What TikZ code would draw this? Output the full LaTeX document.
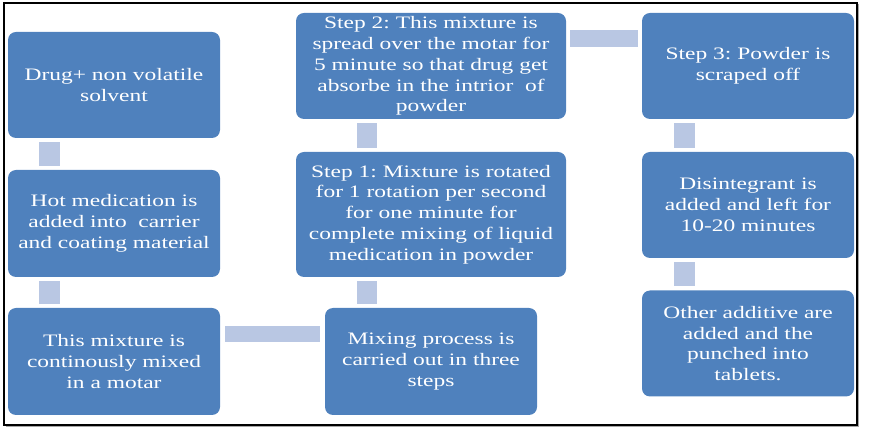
\documentclass[tikz,border=0pt]{standalone}
\usepackage{fontspec}
\setmainfont{Liberation Serif}[FakeStretch=1.34]
\frenchspacing

\definecolor{modra}{HTML}{4F81BD}
\definecolor{svetla}{HTML}{B9C7E3}

\tikzset{
  korak/.style={fill=modra, rounded corners=8pt, text=white, align=center,
    inner sep=0pt, font=\fontsize{17.5}{20.8}\selectfont},
  vez/.style={draw=svetla, line cap=butt}
}

\begin{document}
\begin{tikzpicture}[x=1pt,y=1pt]
\useasboundingbox (0,0) rectangle (870,436);

%okvir
\draw [gray!70, line width=1pt](5.5,9.5)--(858.5,9.5)--(858.5,431.5);
\draw [black, line width=1.1pt](4,11) rectangle (857,433);

%levi stolpec
\node[korak, minimum width=212pt, minimum height=106pt] (drug) at (114,351) {Drug+ non volatile\\solvent};
\node[korak, minimum width=212pt, minimum height=107pt] (hot) at (114,212.5) {Hot medication is\\added into~ carrier\\and coating material};
\node[korak, minimum width=212pt, minimum height=107pt] (mix) at (114,74.5) {This mixture is\\continously mixed\\in a motar};

%srednji stolpec
\node[korak, minimum width=212pt, minimum height=107pt] (proc) at (431,74.5) {Mixing process is\\carried out in three\\steps};
\node[korak, minimum width=270pt, minimum height=125pt] (stepone) at (431,221.5) {Step 1: Mixture is rotated\\for 1 rotation per second\\for one minute for\\complete mixing of liquid\\medication in powder};
\node[korak, minimum width=270pt, minimum height=106pt] (steptwo) at (431,370) {Step 2: This mixture is\\spread over the motar for\\5 minute so that drug get\\absorbe in the intrior~ of\\powder};

%desni stolpec
\node[korak, minimum width=212pt, minimum height=106pt] (stepthree) at (748,370) {Step 3: Powder is\\scraped off};
\node[korak, minimum width=212pt, minimum height=106pt] (disint) at (748,231) {Disintegrant is\\added and left for\\10-20 minutes};
\node[korak, minimum width=212pt, minimum height=106pt] (other) at (748,92.5) {Other additive are\\added and the\\punched into\\tablets.};

%povezave
\draw [vez, line width=21pt]([xshift=41.5pt,yshift=-4pt]drug.south west)--([xshift=41.5pt,yshift=4pt]hot.north west);
\draw [vez, line width=21pt]([xshift=41.5pt,yshift=-4pt]hot.south west)--([xshift=41.5pt,yshift=4pt]mix.north west);
\draw [vez, line width=16pt]([xshift=5pt,yshift=-26pt]mix.north east)--([xshift=-5pt,yshift=-26pt]proc.north west);
\draw [vez, line width=20pt]([xshift=42pt,yshift=4pt]proc.north west)--([xshift=71pt,yshift=-4pt]stepone.south west);
\draw [vez, line width=20pt]([xshift=71pt,yshift=4pt]stepone.north west)--([xshift=71pt,yshift=-4pt]steptwo.south west);
\draw [vez, line width=17pt]([xshift=4pt,yshift=-25.5pt]steptwo.north east)--([xshift=-4pt,yshift=-25.5pt]stepthree.north west);
\draw [vez, line width=21pt]([xshift=42.5pt,yshift=-4pt]stepthree.south west)--([xshift=42.5pt,yshift=4pt]disint.north west);
\draw [vez, line width=21pt]([xshift=42.5pt,yshift=-4pt]disint.south west)--([xshift=42.5pt,yshift=4pt]other.north west);

\end{tikzpicture}
\end{document}
